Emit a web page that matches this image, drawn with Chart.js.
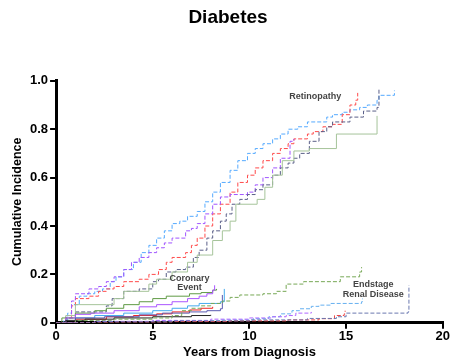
<!DOCTYPE html>
<html>
<head>
<meta charset="utf-8">
<script src="https://cdn.jsdelivr.net/npm/chart.js@4"></script>
<style>
  html, body { margin: 0; padding: 0; background: #fff; }
  #wrap { width: 450px; height: 361px; }
</style>
</head>
<body>
<div id="wrap"><canvas id="incChart"></canvas></div>
<script>
// Retinopathy curves (years, cumulative incidence)
const retBlueX = [0, 0.4, 0.6, 0.8, 1.2, 1.6, 2.0, 2.4, 2.8, 3.1, 3.5, 4.0, 4.4, 4.8, 5.2, 5.6, 6.0, 6.4, 6.8, 7.3, 7.7, 8.1, 8.5, 9.0, 9.4, 9.9, 10.3, 10.7, 11.2, 11.6, 12.0, 12.5, 13.0, 13.5, 14.0, 14.3, 14.8, 15.2, 15.7, 16.1, 16.6, 16.7, 17.4, 17.5];
const retBlueY = [0, 0.01, 0.04, 0.075, 0.11, 0.12, 0.13, 0.14, 0.17, 0.19, 0.22, 0.25, 0.29, 0.32, 0.35, 0.38, 0.41, 0.42, 0.44, 0.46, 0.50, 0.54, 0.58, 0.63, 0.67, 0.70, 0.72, 0.74, 0.76, 0.78, 0.80, 0.81, 0.83, 0.83, 0.85, 0.86, 0.87, 0.88, 0.89, 0.90, 0.92, 0.94, 0.94, 0.96];
const retRedX = [0, 0.5, 0.8, 1.0, 1.7, 2.2, 2.6, 3.0, 3.5, 4.3, 4.8, 5.3, 5.7, 6.0, 6.7, 7.0, 7.3, 7.7, 8.1, 8.5, 9.0, 9.4, 9.9, 10.3, 10.7, 11.2, 11.6, 12.0, 12.3, 13.0, 13.3, 13.8, 14.3, 14.8, 15.2, 15.5, 15.6];
const retRedY = [0, 0.02, 0.07, 0.10, 0.11, 0.13, 0.14, 0.15, 0.17, 0.18, 0.20, 0.22, 0.25, 0.27, 0.29, 0.32, 0.35, 0.40, 0.45, 0.49, 0.54, 0.58, 0.61, 0.64, 0.67, 0.70, 0.72, 0.74, 0.76, 0.78, 0.79, 0.81, 0.82, 0.86, 0.90, 0.92, 0.95];
const retPurpleX = [0, 0.5, 0.8, 1.0, 1.7, 2.2, 2.6, 3.0, 3.5, 3.9, 4.3, 4.8, 5.2, 5.6, 6.0, 6.7, 7.0, 7.3, 7.7, 8.1, 8.5, 9.0, 9.9, 10.3, 10.7, 11.2, 11.6, 12.1, 12.3];
const retPurpleY = [0, 0.03, 0.09, 0.12, 0.14, 0.15, 0.17, 0.19, 0.22, 0.25, 0.27, 0.29, 0.31, 0.33, 0.35, 0.38, 0.39, 0.41, 0.45, 0.49, 0.52, 0.53, 0.54, 0.57, 0.60, 0.64, 0.68, 0.75, 0.76];
const retSlateX = [0, 0.5, 1.0, 2.2, 2.6, 2.9, 3.5, 4.3, 5.0, 5.3, 5.7, 6.2, 6.7, 7.1, 7.4, 7.8, 8.1, 8.5, 8.8, 9.1, 9.5, 9.9, 10.3, 10.7, 11.2, 11.6, 12.0, 12.3, 12.6, 13.1, 13.6, 14.0, 14.3, 15.2, 15.9, 16.6, 16.7];
const retSlateY = [0, 0.02, 0.045, 0.045, 0.07, 0.10, 0.13, 0.14, 0.17, 0.18, 0.21, 0.22, 0.23, 0.27, 0.30, 0.35, 0.38, 0.42, 0.45, 0.49, 0.51, 0.53, 0.55, 0.57, 0.61, 0.64, 0.66, 0.68, 0.70, 0.75, 0.79, 0.81, 0.83, 0.85, 0.875, 0.89, 0.97];
const retSageX = [0, 0.5, 1.0, 2.6, 3.0, 3.5, 4.3, 4.8, 5.2, 6.0, 6.4, 6.8, 7.3, 8.1, 8.6, 9.0, 9.3, 10.4, 10.8, 11.2, 11.7, 12.3, 13.1, 14.5, 16.6];
const retSageY = [0, 0.03, 0.075, 0.075, 0.10, 0.13, 0.13, 0.16, 0.18, 0.21, 0.21, 0.25, 0.28, 0.34, 0.38, 0.42, 0.49, 0.51, 0.56, 0.61, 0.67, 0.71, 0.72, 0.78, 0.855];

// Coronary event curves
const corGreenX = [0, 0.3, 1.0, 2.0, 2.6, 3.5, 4.3, 5.0, 5.7, 6.9, 7.5, 8.1, 8.3];
const corGreenY = [0, 0.02, 0.04, 0.05, 0.06, 0.075, 0.087, 0.10, 0.11, 0.12, 0.125, 0.135, 0.14];
const corPurpleX = [0, 0.5, 1.0, 1.8, 3.0, 4.3, 5.2, 6.0, 6.8, 7.4, 7.8, 8.1, 8.2];
const corPurpleY = [0, 0.02, 0.035, 0.04, 0.05, 0.066, 0.075, 0.087, 0.10, 0.11, 0.12, 0.135, 0.155];
const corBlueX = [0, 1.0, 2.0, 3.5, 5.0, 6.0, 6.8, 7.4, 8.5, 8.7];
const corBlueY = [0, 0.02, 0.03, 0.04, 0.05, 0.06, 0.07, 0.08, 0.087, 0.14];
const corRedX = [0, 1.0, 2.6, 4.0, 5.2, 6.0, 6.9, 7.5, 8.1];
const corRedY = [0, 0.015, 0.025, 0.03, 0.037, 0.045, 0.053, 0.06, 0.066];
const corSlateX = [0, 1.0, 2.5, 4.3, 5.5, 6.9, 7.8, 8.5, 8.6];
const corSlateY = [0, 0.02, 0.025, 0.033, 0.04, 0.045, 0.05, 0.058, 0.115];
const corBlackX = [0, 0.5, 1.5, 3.0, 5.0, 7.0, 8.0];
const corBlackY = [0, 0.01, 0.015, 0.02, 0.025, 0.03, 0.033];

// Endstage renal disease curves
const renGreenX = [0, 1.0, 3.0, 5.0, 6.0, 6.5, 7.0, 7.5, 8.0, 8.6, 9.0, 9.5, 10.7, 11.4, 11.9, 12.8, 14.7, 15.7, 15.8];
const renGreenY = [0, 0.01, 0.015, 0.02, 0.03, 0.05, 0.06, 0.07, 0.08, 0.09, 0.105, 0.115, 0.12, 0.13, 0.16, 0.17, 0.19, 0.21, 0.23];
const renBlueX = [0, 2.0, 5.0, 8.5, 10.2, 11.0, 11.6, 12.2, 12.6, 13.2, 13.6, 14.2, 15.8, 15.85];
const renBlueY = [0, 0.005, 0.008, 0.012, 0.017, 0.025, 0.037, 0.05, 0.058, 0.068, 0.073, 0.08, 0.087, 0.10];
const renPurpleX = [0, 2.0, 5.0, 8.0, 10.0, 11.2, 11.9, 12.4, 13.2];
const renPurpleY = [0, 0.006, 0.01, 0.015, 0.02, 0.025, 0.03, 0.04, 0.045];
const renRedX = [0, 3.0, 6.0, 9.0, 12.0, 13.6, 14.4, 14.9, 14.95];
const renRedY = [0, 0.003, 0.005, 0.008, 0.012, 0.017, 0.03, 0.037, 0.05];
const renSlateX = [0, 2.0, 6.0, 10.0, 13.0, 14.5, 15.0, 18.2, 18.25];
const renSlateY = [0, 0.004, 0.008, 0.012, 0.018, 0.025, 0.04, 0.045, 0.155];

const xTicks = [0, 5, 10, 15, 20];
const yTickLabels = ['0', '0.2', '0.4', '0.6', '0.8', '1.0'];

// curve labels: text, x (years), y (incidence)
const curveLabels = [
  { text: 'Retinopathy', x: 13.4, y: 0.934 },
  { text: 'Coronary', x: 6.9, y: 0.183 },
  { text: 'Event', x: 6.9, y: 0.145 },
  { text: 'Endstage', x: 16.4, y: 0.158 },
  { text: 'Renal Disease', x: 16.4, y: 0.116 }
];

function pts(xs, ys) {
  return xs.map((x, i) => ({ x: x, y: ys[i] }));
}

const DASH = [4, 2];
function curve(xs, ys, color, dashed) {
  return {
    data: pts(xs, ys),
    borderColor: color,
    borderWidth: 1,
    borderDash: dashed ? DASH : [],
    pointRadius: 0,
    stepped: true,
    fill: false
  };
}

const labelPlugin = {
  id: 'curveLabels',
  afterDatasetsDraw(chart) {
    const c = chart.ctx;
    const xs = chart.scales.x, ys = chart.scales.y;
    c.save();
    c.font = 'bold 9px "Liberation Sans", Arial, sans-serif';
    c.fillStyle = '#444';
    c.textAlign = 'center';
    c.textBaseline = 'middle';
    curveLabels.forEach(l => {
      c.fillText(l.text, xs.getPixelForValue(l.x), ys.getPixelForValue(l.y));
    });
    c.restore();
  }
};

const FAMILY = '"Liberation Sans", Arial, sans-serif';
const tickFont = { family: FAMILY, size: 13, weight: 'bold' };

const ctx = document.getElementById('incChart').getContext('2d');
const incChart = new Chart(ctx, {
  type: 'line',
  data: {
    datasets: [
      curve(renSlateX, renSlateY, '#6a78b0', true),
      curve(renRedX, renRedY, '#ee4444', true),
      curve(renPurpleX, renPurpleY, '#b066ff', true),
      curve(renBlueX, renBlueY, '#66b0f0', true),
      curve(renGreenX, renGreenY, '#77a856', true),
      curve(corBlackX, corBlackY, '#222222', false),
      curve(corSlateX, corSlateY, '#5a5ab0', false),
      curve(corRedX, corRedY, '#ee2222', false),
      curve(corBlueX, corBlueY, '#44aaee', false),
      curve(corPurpleX, corPurpleY, '#aa55ff', false),
      curve(corGreenX, corGreenY, '#5f9a45', false),
      curve(retSageX, retSageY, '#a6c49a', false),
      curve(retSlateX, retSlateY, '#5a5f88', true),
      curve(retPurpleX, retPurpleY, '#a055ff', true),
      curve(retRedX, retRedY, '#ff4a4a', true),
      curve(retBlueX, retBlueY, '#55aaff', true)
    ]
  },
  options: {
    responsive: true,
    maintainAspectRatio: false,
    animation: false,
    layout: { padding: { left: 10, right: 4, top: 0, bottom: 1 } },
    scales: {
      x: {
        type: 'linear',
        min: 0,
        max: 20,
        afterBuildTicks: axis => { axis.ticks = xTicks.map(v => ({ value: v })); },
        ticks: { color: '#000', font: tickFont, padding: 0 },
        grid: { drawOnChartArea: false, drawTicks: true, tickLength: 6, color: '#000', lineWidth: 2 },
        border: { display: true, color: '#000', width: 3 },
        title: {
          display: true,
          text: 'Years from Diagnosis',
          color: '#000',
          font: { family: FAMILY, size: 13, weight: 'bold' },
          padding: { top: 0, bottom: 0 }
        }
      },
      y: {
        min: 0,
        max: 1,
        ticks: {
          stepSize: 0.2,
          color: '#000',
          font: tickFont,
          padding: 2,
          callback: (v, i) => yTickLabels[i]
        },
        grid: { drawOnChartArea: false, drawTicks: true, tickLength: 6, color: '#000', lineWidth: 2 },
        border: { display: true, color: '#000', width: 3 },
        title: {
          display: true,
          text: 'Cumulative Incidence',
          color: '#000',
          font: { family: FAMILY, size: 12.5, weight: 'bold' },
          padding: { top: 0, bottom: 3 }
        }
      }
    },
    plugins: {
      legend: { display: false },
      tooltip: { enabled: false },
      title: {
        display: true,
        text: 'Diabetes',
        color: '#000',
        font: { family: FAMILY, size: 19, weight: 'bold' },
        padding: { top: 6, bottom: 52 }
      }
    }
  },
  plugins: [labelPlugin]
});
</script>
</body>
</html>
